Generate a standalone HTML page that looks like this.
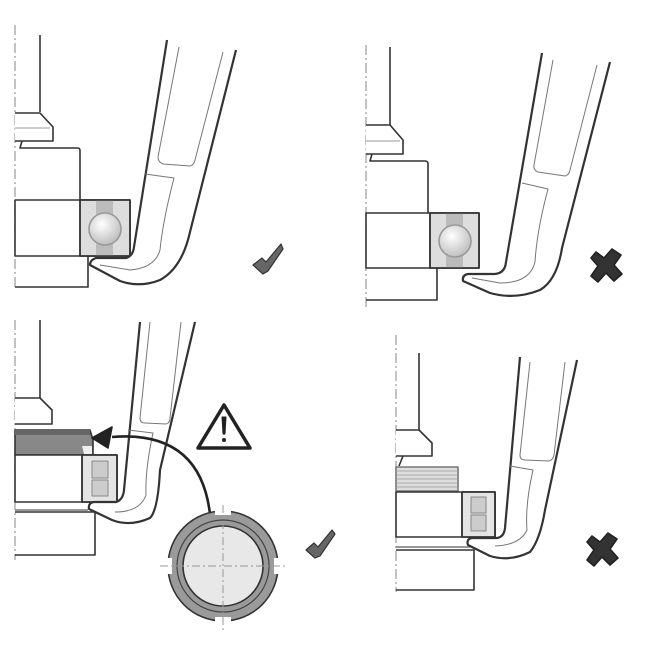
<!DOCTYPE html>
<html><head><meta charset="utf-8"><style>html,body{margin:0;padding:0;background:#fff}svg{display:block}</style></head>
<body>
<svg width="650" height="650" viewBox="0 0 650 650" xmlns="http://www.w3.org/2000/svg" fill="none" stroke="#333" stroke-width="1.6" stroke-linejoin="round">
<defs>
<radialGradient id="ball" cx="0.4" cy="0.35" r="0.7"><stop offset="0" stop-color="#fff"/><stop offset="1" stop-color="#bbb"/></radialGradient>
</defs>

<!-- ===== Panel 1 ===== -->
<line x1="15" y1="25" x2="15" y2="288" stroke="#999" stroke-width="1.2" stroke-dasharray="10,3,2,3"/>
<line x1="40" y1="35" x2="40" y2="112"/>
<path d="M15 113 H40 L53 127 V141 H15" fill="#fff"/>
<line x1="15" y1="128" x2="50" y2="128" stroke="#bbb"/>
<path d="M22 141 L20 148 H78 Q80 148 80 151 V200"/>
<rect x="15" y="200" width="115" height="56" fill="#fff"/>
<rect x="80" y="200" width="50" height="56" fill="#ddd"/>
<rect x="96" y="200" width="17" height="56" fill="#bbb" stroke="none"/>
<rect x="80" y="200" width="50" height="56"/>
<circle cx="105" cy="229" r="16" fill="url(#ball)" stroke="#999"/>
<path d="M15 287 H88 V256"/>
<path d="M167 40 L134 247 Q133 256 126 258 H96 Q90 260 90 265 L120 281 Q140 288 160 280 Q182 268 190 232 L236 50" fill="#fff" stroke-width="2.2"/>
<path d="M179 47 L158 157 Q158 162 163 164 L190 166 Q194 165 195 160 L223 52" stroke="#777" stroke-width="1"/>
<path d="M145 174 L174 178 Q163 220 160 250 Q155 268 130 270 L100 265" stroke="#777" stroke-width="1"/>
<path d="M253 265 L262 258 L266 262 L281 244 L283 249 L268 271 L263 274 Z" fill="#666" stroke="#333" stroke-width="1.2"/>

<!-- ===== Panel 2 ===== -->
<line x1="366" y1="45" x2="366" y2="310" stroke="#999" stroke-width="1.2" stroke-dasharray="10,3,2,3"/>
<line x1="390" y1="47" x2="390" y2="125"/>
<path d="M366 125 H390 L403 140 V154 H366" fill="#fff"/>
<line x1="366" y1="141" x2="400" y2="141" stroke="#bbb"/>
<path d="M372 154 L370 161 H425 Q428 161 428 164 V213"/>
<rect x="366" y="213" width="113" height="55" fill="#fff"/>
<rect x="430" y="213" width="49" height="55" fill="#ddd"/>
<rect x="446" y="213" width="17" height="55" fill="#bbb" stroke="none"/>
<rect x="430" y="213" width="49" height="55"/>
<circle cx="455" cy="241" r="16" fill="url(#ball)" stroke="#999"/>
<path d="M366 300 H437 V268"/>
<path d="M542 53 L506 262 Q505 273 495 274 H468 Q462 275 463 281 L490 293 Q515 300 540 290 Q557 280 562 248 L610 62" fill="#fff" stroke-width="2.2"/>
<path d="M553 60 L534 165 Q533 170 538 172 L565 176 Q569 175 570 170 L597 65" stroke="#777" stroke-width="1"/>
<path d="M522 183 L548 189 Q537 230 535 262 Q530 283 500 283 L472 278" stroke="#777" stroke-width="1"/>
<path d="M596 252 L604 258 L612 249 L621 255 L614 265 L622 274 L614 281 L606 273 L598 282 L591 276 L598 266 L591 258 Z" fill="#333" stroke="#222"/>

<!-- ===== Panel 3 ===== -->
<line x1="15" y1="320" x2="15" y2="560" stroke="#999" stroke-width="1.2" stroke-dasharray="10,3,2,3"/>
<line x1="40" y1="320" x2="40" y2="398"/>
<path d="M15 398 H40 L52 410 V424 H15" fill="#fff"/>
<path d="M15 430 H90 L93 440 V455 H15 Z" fill="#888"/>
<rect x="15" y="430" width="75" height="5" fill="#666" stroke="none"/>
<path d="M82 446 H92 V485" stroke="none" fill="#eee"/>
<rect x="15" y="455" width="102" height="47" fill="#fff"/>
<rect x="82" y="455" width="35" height="47" fill="#e4e4e4"/>
<path d="M92 461 H108 V478 H92 Z M92 480 H108 V496 H92 Z" fill="#ccc" stroke="#888" stroke-width="1"/>
<rect x="82" y="455" width="35" height="47"/>
<line x1="15" y1="510" x2="88" y2="510" stroke="#777"/>
<path d="M15 512 H95 V555 H15"/>
<path d="M140 322 L124 490 Q123 500 116 502 H94 Q88 503 89 509 L112 520 Q130 527 150 518 Q158 510 160 470 L195 322" fill="#fff" stroke-width="2.2"/>
<path d="M150 322 L140 418 Q140 423 145 423 L166 424 Q170 423 170 418 L181 322" stroke="#777" stroke-width="1"/>
<path d="M128 430 L153 433 Q145 470 146 495 Q140 512 115 512" stroke="#777" stroke-width="1"/>
<!-- arrow -->
<path d="M210 514 Q200 430 112 437" stroke="#222" stroke-width="2.6"/>
<path d="M92 438 L112 427 L108 448 Z" fill="#222" stroke="#222"/>
<!-- warning -->
<path d="M224 405 L250 448 H198 Z" fill="#fff" stroke="#222" stroke-width="3.5"/>
<path d="M222 417 H226 L225 434 H223 Z" fill="#222" stroke="#222" stroke-width="1"/>
<circle cx="224" cy="440" r="2" fill="#222" stroke="none"/>
<!-- nut -->
<circle cx="223" cy="566" r="55" fill="#9a9a9a" stroke="#333"/>
<rect x="215" y="508" width="16" height="7" fill="#fff" stroke="none"/>
<rect x="215" y="617" width="16" height="7" fill="#fff" stroke="none"/>
<rect x="165" y="558" width="7" height="16" fill="#fff" stroke="none"/>
<rect x="274" y="558" width="7" height="16" fill="#fff" stroke="none"/>
<circle cx="223" cy="566" r="46" stroke="#444" stroke-width="1.2"/>
<circle cx="223" cy="566" r="40" fill="#e8e8e8" stroke="#333"/>
<line x1="223" y1="505" x2="223" y2="630" stroke="#999" stroke-width="1" stroke-dasharray="8,3,2,3"/>
<line x1="160" y1="566" x2="288" y2="566" stroke="#999" stroke-width="1" stroke-dasharray="8,3,2,3"/>
<path d="M306 550 L314 543 L318 547 L332 530 L335 534 L320 556 L315 558 Z" fill="#666" stroke="#333" stroke-width="1.2"/>

<!-- ===== Panel 4 ===== -->
<line x1="396" y1="335" x2="396" y2="592" stroke="#999" stroke-width="1.2" stroke-dasharray="10,3,2,3"/>
<line x1="419" y1="353" x2="419" y2="430"/>
<path d="M396 430 H419 L432 443 V456 H396" fill="#fff"/>
<path d="M403 456 L399 466"/>
<rect x="396" y="467" width="62" height="24" fill="#ddd" stroke="#777"/>
<g stroke="#999" stroke-width="0.8">
<line x1="396" y1="471" x2="458" y2="471"/><line x1="396" y1="475" x2="458" y2="475"/><line x1="396" y1="479" x2="458" y2="479"/><line x1="396" y1="483" x2="458" y2="483"/><line x1="396" y1="487" x2="458" y2="487"/>
</g>
<rect x="396" y="492" width="99" height="45" fill="#fff"/>
<rect x="462" y="492" width="33" height="45" fill="#e4e4e4"/>
<path d="M471 497 H486 V513 H471 Z M471 515 H486 V531 H471 Z" fill="#ccc" stroke="#888" stroke-width="1"/>
<rect x="462" y="492" width="33" height="45"/>
<line x1="396" y1="547" x2="470" y2="547" stroke="#777"/>
<path d="M396 550 H474 V590 H396"/>
<path d="M520 357 L505 528 Q504 537 497 538 H472 Q466 539 468 545 L490 556 Q510 562 530 552 Q540 540 545 510 L577 360" fill="#fff" stroke-width="2.2"/>
<path d="M530 362 L520 455 Q520 460 525 460 L549 461 Q553 460 554 455 L565 362" stroke="#777" stroke-width="1"/>
<path d="M510 466 L533 470 Q525 505 527 530 Q520 545 495 546" stroke="#777" stroke-width="1"/>
<path d="M592 536 L600 542 L608 533 L617 539 L610 549 L618 558 L610 565 L602 557 L594 566 L587 560 L594 550 L587 542 Z" fill="#333" stroke="#222"/>
</svg>
</body></html>
